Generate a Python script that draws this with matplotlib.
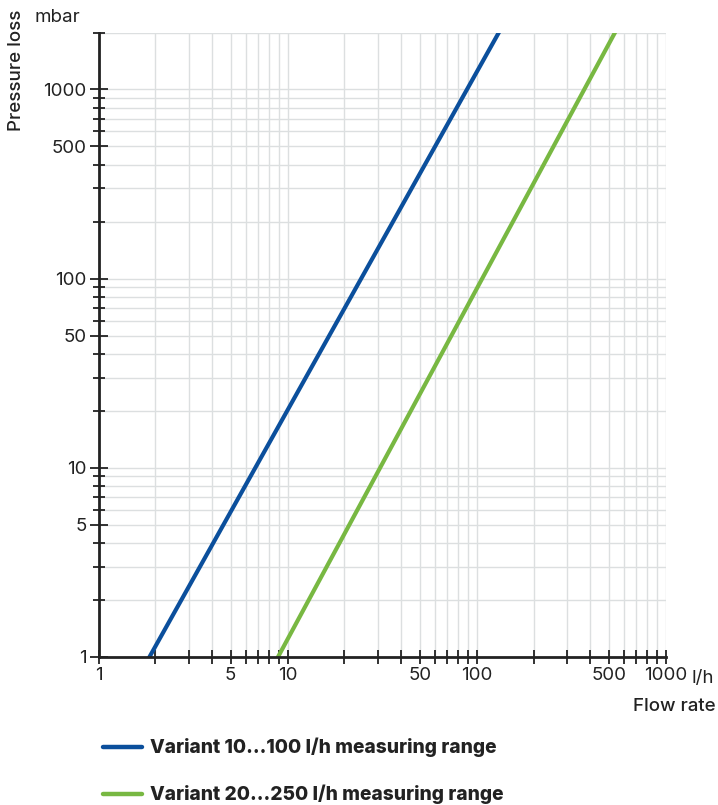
import matplotlib
matplotlib.use("Agg")
import matplotlib.pyplot as plt
from matplotlib.lines import Line2D
from matplotlib.ticker import FixedLocator, NullFormatter, LogLocator

plt.rcParams['font.family'] = ['Inter', 'DejaVu Sans']

# (log-log, straight lines)
flow_blue = [1.86, 131]
loss_blue = [1, 2000]
flow_green = [8.9, 539]
loss_green = [1, 2000]
labels = ["Variant 10...100 l/h measuring range",
          "Variant 20...250 l/h measuring range"]
major_ticks = [1, 5, 10, 50, 100, 500, 1000]
tick_labels = ["1", "5", "10", "50", "100", "500", "1000"]

blue = "#0b4f9c"
green = "#78b842"
dark = "#222222"
fs = 13.5

fig = plt.figure(figsize=(7.18, 8.05), dpi=100)
ax = fig.add_axes([0.1372, 0.1839, 0.7900, 0.7757])

l1, = ax.plot(flow_blue, loss_blue, color=blue, lw=3.0, label=labels[0], zorder=3)
l2, = ax.plot(flow_green, loss_green, color=green, lw=3.0, label=labels[1], zorder=3)

ax.set_xscale("log")
ax.set_yscale("log")
ax.set_xlim(1, 1000)
ax.set_ylim(1, 2000)

ax.xaxis.set_major_locator(FixedLocator(major_ticks))
ax.xaxis.set_major_formatter(plt.FixedFormatter(tick_labels))
ax.yaxis.set_major_locator(FixedLocator(major_ticks))
ax.yaxis.set_major_formatter(plt.FixedFormatter(tick_labels))
ax.xaxis.set_minor_locator(LogLocator(base=10, subs=range(2, 10)))
ax.yaxis.set_minor_locator(LogLocator(base=10, subs=range(2, 10)))
ax.xaxis.set_minor_formatter(NullFormatter())
ax.yaxis.set_minor_formatter(NullFormatter())

ax.grid(True, which="both", color="#dcdfe0", lw=1.0, zorder=0)
ax.set_axisbelow(True)

for s in ["top", "right"]:
    ax.spines[s].set_visible(False)
for s in ["left", "bottom"]:
    ax.spines[s].set_linewidth(2.0)
    ax.spines[s].set_color(dark)
    ax.spines[s].set_zorder(4)

ax.tick_params(axis="x", which="both", direction="inout", length=10, width=1.3,
               color=dark, labelsize=fs, labelcolor=dark, pad=2)
ax.tick_params(axis="y", which="major", direction="inout", length=13, width=1.3,
               color=dark, labelsize=fs, labelcolor=dark, pad=2)
ax.tick_params(axis="y", which="minor", direction="inout", length=8, width=1.3,
               color=dark)

# axis titles and units
fig.text(17 / 718, 1 - 70 / 805, "Pressure loss", rotation=90, ha="center",
         va="center", fontsize=fs, fontweight="medium", color=dark)
fig.text(57 / 718, 1 - 18 / 805, "mbar", ha="center", va="center",
         fontsize=fs, color=dark)
fig.text(703 / 718, 1 - 678 / 805, "l/h", ha="center", va="center",
         fontsize=fs, color=dark)
fig.text(716 / 718, 1 - 706 / 805, "Flow rate", ha="right", va="center",
         fontsize=fs, fontweight="medium", color=dark)

# legend below the chart
for line, ypix in [(l1, 747), (l2, 794)]:
    yf = 1 - ypix / 805
    fig.add_artist(Line2D([103 / 718, 142 / 718], [yf, yf], color=line.get_color(),
                          lw=3.2, solid_capstyle="round"))
    fig.text(150 / 718, yf, line.get_label(), ha="left", va="center",
             fontsize=13.8, fontweight="heavy", color=dark)

fig.savefig("out.png", dpi=100)
